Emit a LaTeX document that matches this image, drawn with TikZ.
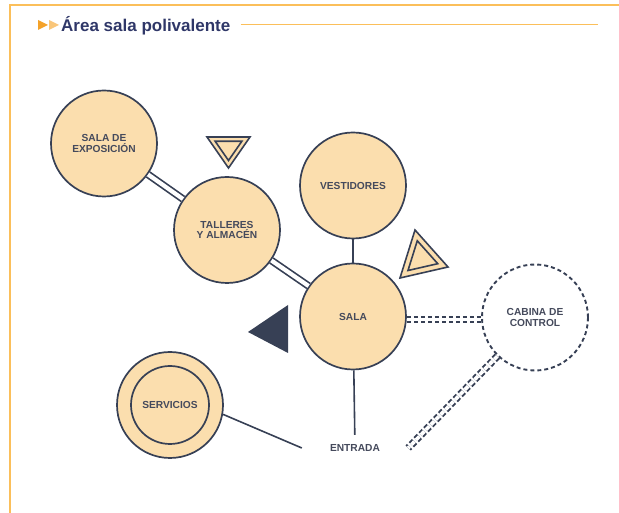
\documentclass[tikz,border=0pt]{standalone}
\usepackage{fontspec}
\setmainfont{Liberation Sans}
\usepackage{xcolor}
\usepackage{tikz}
\usetikzlibrary{positioning, calc}
\definecolor{naranja}{HTML}{FBBF5A}
\definecolor{naranjaosc}{HTML}{F4A229}
\definecolor{naranjacla}{HTML}{F9C67A}
\definecolor{melocoton}{HTML}{FBDEAE}
\definecolor{marino}{HTML}{374055}
\definecolor{tinta}{HTML}{2F3768}
\definecolor{texto}{HTML}{454A5C}
\tikzstyle{lugar}=[%
      circle, draw=marino, line width=1.7pt, fill=melocoton,
      minimum size=106pt, inner sep=0pt, align=center, text=texto,
      font=\bfseries\fontsize{10.2}{10.5}\selectfont
]
\tikzstyle{cabina}=[%
      circle, draw=marino, line width=1.9pt, dash pattern=on 4pt off 3pt, fill=white,
      minimum size=106pt, inner sep=0pt, align=center, text=texto,
      font=\bfseries\fontsize{10.2}{10.5}\selectfont
]
\tikzstyle{rotulo}=[%
      rectangle, minimum width=106pt, minimum height=26pt, inner sep=0pt, text=texto,
      font=\bfseries\fontsize{10.2}{10.5}\selectfont
]
\tikzstyle{titulo}=[%
      inner sep=0pt, text=tinta, font=\bfseries\fontsize{17}{20}\selectfont
]
\tikzstyle{doble}=[draw=marino, line width=1.7pt, double=white, double distance=4.2pt]
\tikzstyle{dobleraya}=[doble, line width=1.9pt, double distance=3.6pt, dash pattern=on 4.5pt off 2.5pt]
\tikzstyle{linea}=[draw=marino, line width=1.6pt]
\tikzstyle{marca}=[draw=marino, line width=1.6pt, fill=melocoton, line join=miter]
\tikzstyle{marco}=[draw=naranja, line width=1.5pt]
\newcommand{\triangulo}[4]{%
  \begin{scope}[shift={#1}]
    \path[marca] #2 -- #3 -- #4 -- cycle;
    \path[marca, scale=0.62] #2 -- #3 -- #4 -- cycle;
  \end{scope}}

\begin{document}
\begin{tikzpicture}[x=1pt, y=1pt]
    \useasboundingbox (0,0) rectangle (619,513);

    % marco y titulo
    \draw[marco] (10,0) -- (10,508) -- (619,508);
    \fill[naranjaosc] (38,493) -- (48,488) -- (38,483) -- cycle;
    \fill[naranjacla] (49,493) -- (59,488) -- (49,483) -- cycle;
    \node[titulo, anchor=base west] (tit) at (61,481) {Área sala polivalente};
    \coordinate (fin) at (598,488.5);
    \draw[marco] (tit.east |- fin) ++(10,0) -- (fin);

    % espacios
    \node[lugar] (expo) at (104,369.5) {SALA DE\\EXPOSICIÓN};
    \node[lugar] (tall) at (227,283)   {TALLERES\\Y ALMACÉN};
    \node[lugar] (vest) at (353,327.5) {VESTIDORES};
    \node[lugar] (sala) at (353,196.5) {SALA};
    \node[cabina] (cab) at (535,195.5) {CABINA DE\\CONTROL};
    \node[lugar] (serv) at (170,108) {};
    \node[lugar, minimum size=78pt] (servin) at (serv) {SERVICIOS};
    \node[rotulo] (entrada) at (355,65) {ENTRADA};

    \path[doble] (expo) -- (tall);
    \path[doble] (tall) -- (sala);
    \path[linea] (vest) -- (sala);
    \path[linea] (sala) -- (entrada);
    \path[linea] (serv.-10) -- (entrada.west);
    \path[dobleraya] ([yshift=-3pt]sala.east) -- ([yshift=-3pt]sala.east -| cab.west);
    \path[dobleraya] (cab) -- (entrada.east);

    % marcas
    \triangulo{(228.5,364.7)}{(-21.5,11.3)}{(21.5,11.3)}{(0,-19.7)}
    \triangulo{(421,254.7)}{(-6,28.3)}{(27,-8.7)}{(-21,-19.7)}
    \fill[marino] (248,181) -- (288,208) -- (288,160) -- cycle;

\end{tikzpicture}
\end{document}
